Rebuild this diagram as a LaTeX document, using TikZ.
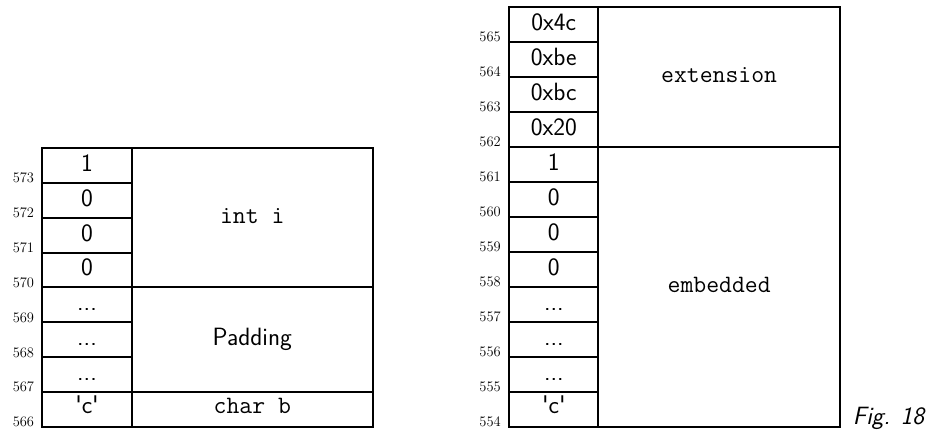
\documentclass[tikz,border=0pt]{standalone}
\usepackage{fontspec}
\newcommand\mydots{...}
\begin{document}
\begin{tikzpicture}[x=1pt,y=-1pt,
  cell/.style={draw=black, line width=2pt, rectangle, inner sep=0pt, outer sep=0pt,
    font=\fontsize{25}{30}\selectfont\sffamily, text height=17.5pt, text depth=5.5pt},
  lastcell/.style={cell, text depth=9.5pt},
  ttcell/.style={cell, font=\fontsize{25}{30}\selectfont\ttfamily},
  ttlast/.style={lastcell, font=\fontsize{25}{30}\selectfont\ttfamily},
  addr/.style={inner sep=0pt, anchor=base east, font=\fontsize{14.5}{16}\selectfont\rmfamily},
  figlabel/.style={inner sep=0pt, anchor=base west, font=\fontsize{25}{30}\selectfont\sffamily\itshape}]
\useasboundingbox (0,0) rectangle (931,432);
% ---------- left structure ----------
\def\lh{34.84}
\foreach \v [count=\i] in {1,0,0,0,\mydots,\mydots,\mydots} {
  \node[cell, minimum width=90pt, minimum height=\lh pt] (L\i) at (87,{148+\lh*(\i-0.5)}) {\v};
}
\node[lastcell, minimum width=90pt, minimum height=\lh pt] (L8) at (87,{148+\lh*7.5}) {\textquotesingle c\textquotesingle};
\node[ttcell, minimum width=240.5pt, minimum height=139.36pt] (inti) at (252.25,217.68) {int i};
\node[cell, minimum width=240.5pt, minimum height=104.52pt] (pad) at (252.25,339.62) {Padding};
\node[ttlast, minimum width=240.5pt, minimum height=\lh pt] (charb) at (252.25,409.3) {char b};
\foreach \a [count=\i] in {573,572,571,570,569,568,567,566} {
  \node[addr] (LA\i) at (34.3,{148+\lh*\i}) {\a};
}
% ---------- right structure ----------
\def\rh{35}
\foreach \v [count=\i] in {0x4c,0xbe,0xbc,0x20,1,0,0,0,\mydots,\mydots,\mydots} {
  \node[cell, minimum width=89pt, minimum height=\rh pt] (R\i) at (553.8,{6.7+\rh*(\i-0.5)}) {\v};
}
\node[lastcell, minimum width=89pt, minimum height=\rh pt] (R12) at (553.8,{6.7+\rh*11.5}) {\textquotesingle c\textquotesingle};
\node[ttcell, minimum width=241.7pt, minimum height=140pt] (ext) at (719.15,76.7) {extension};
\node[ttcell, minimum width=241.7pt, minimum height=280pt] (emb) at (719.15,286.7) {embedded};
\foreach \a [count=\i] in {565,564,563,562,561,560,559,558,557,556,555,554} {
  \node[addr] (RA\i) at (501,{6.7+\rh*\i}) {\a};
}
\node[figlabel] (fig) at (852.7,424.3) {Fig. 18};
\end{tikzpicture}
\end{document}
